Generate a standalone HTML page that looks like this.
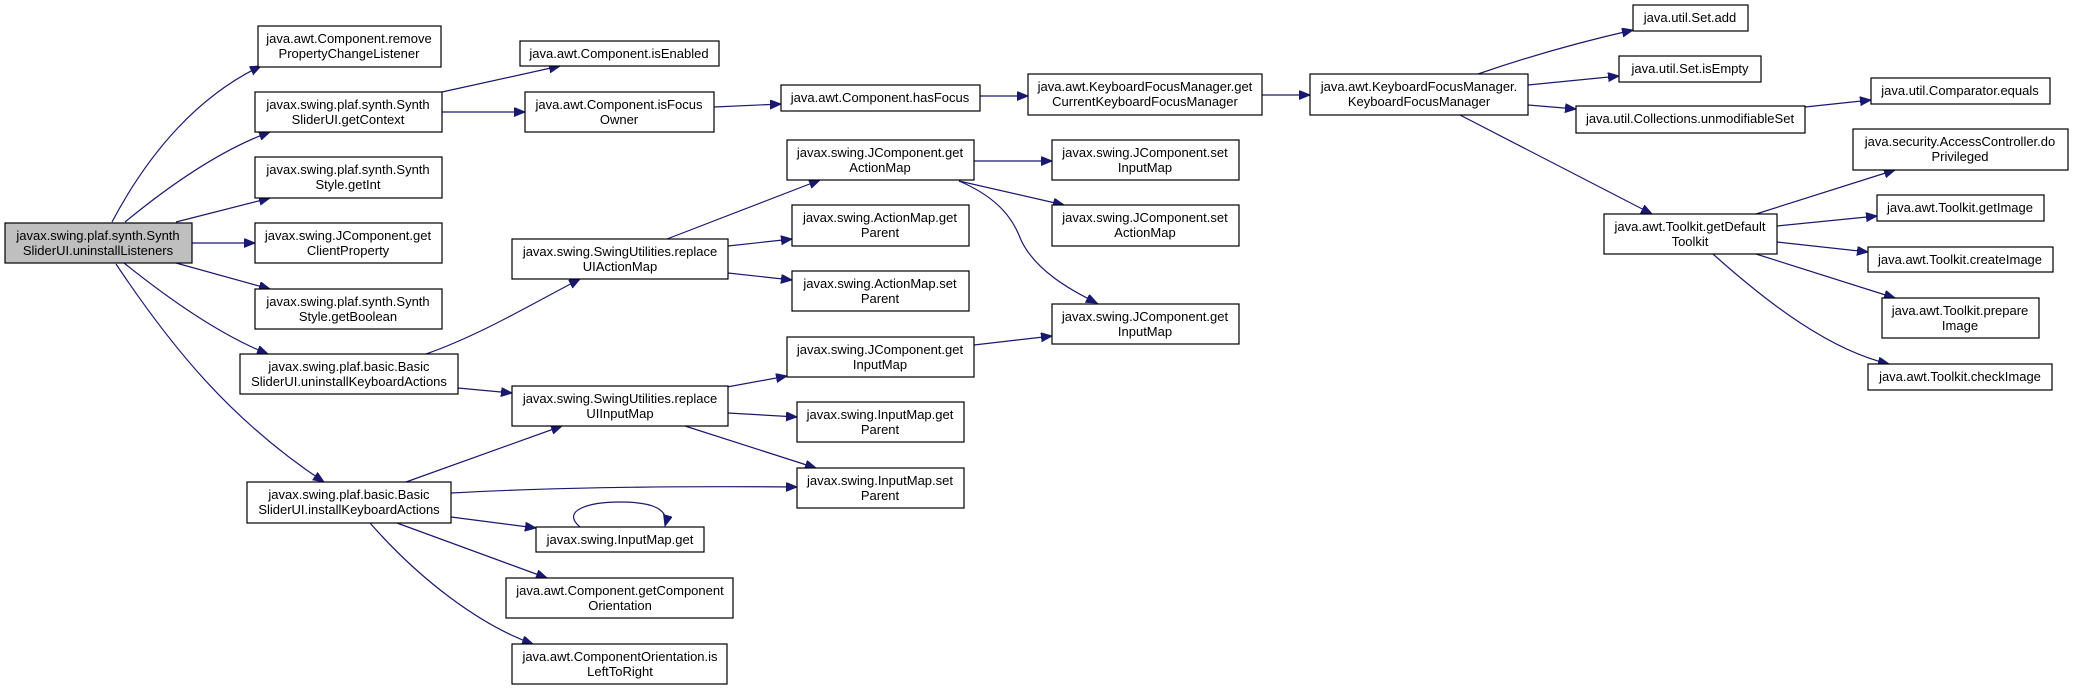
<!DOCTYPE html>
<html><head><meta charset="utf-8"><style>
html,body{margin:0;padding:0;background:#fff;}
svg{display:block;}
text{font-family:"Liberation Sans",Arial,sans-serif;font-size:13px;fill:#000;text-anchor:middle;}
rect{fill:#fff;stroke:#000;stroke-width:1.2;}
path.e{fill:none;stroke:#191970;stroke-width:1.2;}
</style></head><body>
<svg width="2073" height="689" viewBox="0 0 2073 689" xmlns="http://www.w3.org/2000/svg">
<defs>
<marker id="a" markerUnits="userSpaceOnUse" markerWidth="12" markerHeight="10" refX="11" refY="4.5" orient="auto">
<path d="M0,0 L11,4.5 L0,9 z" fill="#191970" stroke="#191970"/>
</marker>
</defs>
<g>
<path class="e" marker-end="url(#a)" d="M112,222 C150,150 200,95 261,66"/>
<path class="e" marker-end="url(#a)" d="M125,222 C170,185 220,150 270,132"/>
<path class="e" marker-end="url(#a)" d="M176,222 L270,198"/>
<path class="e" marker-end="url(#a)" d="M192,243 L255,243"/>
<path class="e" marker-end="url(#a)" d="M176,263 L270,289"/>
<path class="e" marker-end="url(#a)" d="M124,263 C170,300 220,335 268,354"/>
<path class="e" marker-end="url(#a)" d="M116,264 C170,345 230,420 324,482"/>
<path class="e" marker-end="url(#a)" d="M442,92 L560,66"/>
<path class="e" marker-end="url(#a)" d="M442,112 L525,112"/>
<path class="e" marker-end="url(#a)" d="M714,107 L781,104"/>
<path class="e" marker-end="url(#a)" d="M980,96 L1028,96"/>
<path class="e" marker-end="url(#a)" d="M1262,95 L1310,95"/>
<path class="e" marker-end="url(#a)" d="M1478,74 C1530,56 1580,42 1633,30"/>
<path class="e" marker-end="url(#a)" d="M1528,85 L1619,76"/>
<path class="e" marker-end="url(#a)" d="M1528,105 L1576,109"/>
<path class="e" marker-end="url(#a)" d="M1460,115 L1652,214"/>
<path class="e" marker-end="url(#a)" d="M1805,107 L1871,100"/>
<path class="e" marker-end="url(#a)" d="M1756,214 L1895,170"/>
<path class="e" marker-end="url(#a)" d="M1777,226 L1877,216"/>
<path class="e" marker-end="url(#a)" d="M1777,242 L1868,252"/>
<path class="e" marker-end="url(#a)" d="M1756,254 L1895,298"/>
<path class="e" marker-end="url(#a)" d="M1713,254 C1770,305 1830,350 1889,364"/>
<path class="e" marker-end="url(#a)" d="M426,354 C480,335 530,305 580,279"/>
<path class="e" marker-end="url(#a)" d="M458,388 L512,393"/>
<path class="e" marker-end="url(#a)" d="M406,482 L562,426"/>
<path class="e" marker-end="url(#a)" d="M451,493 C560,487 680,486 797,487"/>
<path class="e" marker-end="url(#a)" d="M451,517 L536,528"/>
<path class="e" marker-end="url(#a)" d="M580,527 C560,510 590,502 620,502 C650,502 670,508 665,526"/>
<path class="e" marker-end="url(#a)" d="M397,523 L547,578"/>
<path class="e" marker-end="url(#a)" d="M370,523 C420,580 480,625 533,644"/>
<path class="e" marker-end="url(#a)" d="M667,239 L820,180"/>
<path class="e" marker-end="url(#a)" d="M728,246 L792,239"/>
<path class="e" marker-end="url(#a)" d="M728,273 L792,280"/>
<path class="e" marker-end="url(#a)" d="M974,161 L1052,161"/>
<path class="e" marker-end="url(#a)" d="M959,181 L1064,205"/>
<path class="e" marker-end="url(#a)" d="M959,181 C1004,200 1015,225 1021,240 C1035,270 1070,290 1097,303"/>
<path class="e" marker-end="url(#a)" d="M727,387 L787,376"/>
<path class="e" marker-end="url(#a)" d="M728,413 L797,417"/>
<path class="e" marker-end="url(#a)" d="M685,426 L816,468"/>
<path class="e" marker-end="url(#a)" d="M974,345 L1052,336"/>
</g>
<g>
<rect x="5" y="223" width="187" height="40" style="fill:#bfbfbf"/>
<text x="98" y="240">javax.swing.plaf.synth.Synth</text><text x="98" y="255">SliderUI.uninstallListeners</text>

<rect x="258" y="26" width="183" height="41"/>
<text x="349" y="43">java.awt.Component.remove</text><text x="349" y="58">PropertyChangeListener</text>

<rect x="255" y="92" width="187" height="40"/>
<text x="348" y="109">javax.swing.plaf.synth.Synth</text><text x="348" y="124">SliderUI.getContext</text>

<rect x="255" y="157" width="187" height="41"/>
<text x="348" y="174">javax.swing.plaf.synth.Synth</text><text x="348" y="189">Style.getInt</text>

<rect x="255" y="223" width="187" height="40"/>
<text x="348" y="240">javax.swing.JComponent.get</text><text x="348" y="255">ClientProperty</text>

<rect x="255" y="289" width="187" height="40"/>
<text x="348" y="306">javax.swing.plaf.synth.Synth</text><text x="348" y="321">Style.getBoolean</text>

<rect x="240" y="354" width="218" height="40"/>
<text x="349" y="371">javax.swing.plaf.basic.Basic</text><text x="349" y="386">SliderUI.uninstallKeyboardActions</text>

<rect x="247" y="482" width="204" height="41"/>
<text x="349" y="499">javax.swing.plaf.basic.Basic</text><text x="349" y="514">SliderUI.installKeyboardActions</text>

<rect x="520" y="41" width="199" height="25"/>
<text x="619" y="58">java.awt.Component.isEnabled</text>

<rect x="525" y="92" width="189" height="40"/>
<text x="619" y="109">java.awt.Component.isFocus</text><text x="619" y="124">Owner</text>

<rect x="512" y="239" width="216" height="40"/>
<text x="620" y="256">javax.swing.SwingUtilities.replace</text><text x="620" y="271">UIActionMap</text>

<rect x="512" y="386" width="216" height="40"/>
<text x="620" y="403">javax.swing.SwingUtilities.replace</text><text x="620" y="418">UIInputMap</text>

<rect x="536" y="527" width="168" height="25"/>
<text x="620" y="544">javax.swing.InputMap.get</text>

<rect x="506" y="578" width="227" height="40"/>
<text x="620" y="595">java.awt.Component.getComponent</text><text x="620" y="610">Orientation</text>

<rect x="512" y="644" width="215" height="40"/>
<text x="620" y="661">java.awt.ComponentOrientation.is</text><text x="620" y="676">LeftToRight</text>

<rect x="781" y="85" width="199" height="26"/>
<text x="880" y="102">java.awt.Component.hasFocus</text>

<rect x="1028" y="74" width="234" height="41"/>
<text x="1145" y="91">java.awt.KeyboardFocusManager.get</text><text x="1145" y="106">CurrentKeyboardFocusManager</text>

<rect x="1310" y="74" width="218" height="41"/>
<text x="1419" y="91">java.awt.KeyboardFocusManager.</text><text x="1419" y="106">KeyboardFocusManager</text>

<rect x="787" y="140" width="187" height="40"/>
<text x="880" y="157">javax.swing.JComponent.get</text><text x="880" y="172">ActionMap</text>

<rect x="792" y="205" width="177" height="41"/>
<text x="880" y="222">javax.swing.ActionMap.get</text><text x="880" y="237">Parent</text>

<rect x="792" y="271" width="177" height="40"/>
<text x="880" y="288">javax.swing.ActionMap.set</text><text x="880" y="303">Parent</text>

<rect x="787" y="337" width="187" height="40"/>
<text x="880" y="354">javax.swing.JComponent.get</text><text x="880" y="369">InputMap</text>

<rect x="797" y="402" width="167" height="40"/>
<text x="880" y="419">javax.swing.InputMap.get</text><text x="880" y="434">Parent</text>

<rect x="797" y="468" width="167" height="40"/>
<text x="880" y="485">javax.swing.InputMap.set</text><text x="880" y="500">Parent</text>

<rect x="1052" y="140" width="187" height="40"/>
<text x="1145" y="157">javax.swing.JComponent.set</text><text x="1145" y="172">InputMap</text>

<rect x="1052" y="205" width="187" height="41"/>
<text x="1145" y="222">javax.swing.JComponent.set</text><text x="1145" y="237">ActionMap</text>

<rect x="1052" y="304" width="187" height="40"/>
<text x="1145" y="321">javax.swing.JComponent.get</text><text x="1145" y="336">InputMap</text>

<rect x="1633" y="5" width="115" height="26"/>
<text x="1690" y="22">java.util.Set.add</text>

<rect x="1619" y="56" width="142" height="26"/>
<text x="1690" y="73">java.util.Set.isEmpty</text>

<rect x="1576" y="106" width="229" height="27"/>
<text x="1690" y="123">java.util.Collections.unmodifiableSet</text>

<rect x="1604" y="214" width="173" height="40"/>
<text x="1690" y="231">java.awt.Toolkit.getDefault</text><text x="1690" y="246">Toolkit</text>

<rect x="1871" y="78" width="179" height="26"/>
<text x="1960" y="95">java.util.Comparator.equals</text>

<rect x="1853" y="129" width="215" height="41"/>
<text x="1960" y="146">java.security.AccessController.do</text><text x="1960" y="161">Privileged</text>

<rect x="1877" y="195" width="167" height="26"/>
<text x="1960" y="212">java.awt.Toolkit.getImage</text>

<rect x="1868" y="247" width="185" height="25"/>
<text x="1960" y="264">java.awt.Toolkit.createImage</text>

<rect x="1882" y="298" width="157" height="40"/>
<text x="1960" y="315">java.awt.Toolkit.prepare</text><text x="1960" y="330">Image</text>

<rect x="1868" y="364" width="184" height="26"/>
<text x="1960" y="381">java.awt.Toolkit.checkImage</text>
</g>
</svg>
</body></html>
